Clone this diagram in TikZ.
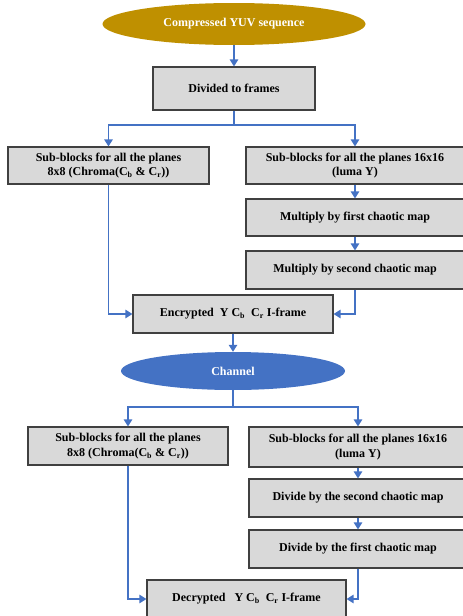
\documentclass[tikz,border=0pt]{standalone}
\usepackage{fontspec}
\setmainfont{Liberation Serif}
\usetikzlibrary{arrows.meta,shapes.geometric}

\definecolor{gold}{HTML}{BF9000}
\definecolor{chanblue}{HTML}{4472C4}
\definecolor{boxgray}{HTML}{D9D9D9}
\definecolor{edgegray}{HTML}{404040}

\tikzset{
  stepbox/.style={draw=edgegray, line width=1.2pt, fill=boxgray, inner sep=1pt,
    align=center, font=\fontsize{12}{14.5}\selectfont\bfseries},
  terminal/.style={ellipse, inner sep=0pt, text=white,
    font=\fontsize{12}{14.5}\selectfont\bfseries},
  arr/.style={draw=chanblue, line width=1.4pt, -{Triangle[width=8.5pt,length=7pt]}},
  link/.style={draw=chanblue, line width=1.4pt}
}

\begin{document}
\begin{tikzpicture}[x=1pt,y=-1pt]
\useasboundingbox (0,0) rectangle (463,616);
\clip (0,0) rectangle (463,616);

% encryption side
\node[terminal, fill=gold, minimum width=263, minimum height=42] (seq) at (234,24) {Compressed YUV sequence};
\node[stepbox, minimum width=162, minimum height=43] (frames) at (234,88.5) {Divided to frames};
\node[stepbox, minimum width=201, minimum height=37] (chromaA) at (108.5,165.5) {Sub-blocks for all the planes\\8x8 (Chroma(C\textsubscript{b} \& C\textsubscript{r}))};
\node[stepbox, minimum width=218, minimum height=37] (lumaA) at (355,165.5) {Sub-blocks for all the planes 16x16\\(luma Y)};
\node[stepbox, minimum width=218, minimum height=37] (mulA) at (355,217.5) {Multiply by first chaotic map};
\node[stepbox, minimum width=218, minimum height=38] (mulB) at (355,270) {Multiply by second chaotic map};
\node[stepbox, minimum width=200, minimum height=38] (enc) at (233,314) {Encrypted\ \ Y C\textsubscript{b}\ \ C\textsubscript{r} I-frame};

\node[terminal, fill=chanblue, minimum width=224, minimum height=38] (chan) at (233,371) {Channel};

% decryption side
\node[stepbox, minimum width=200, minimum height=38] (chromaB) at (128,446) {Sub-blocks for all the planes\\8x8 (Chroma(C\textsubscript{b} \& C\textsubscript{r}))};
\node[stepbox, minimum width=218, minimum height=40] (lumaB) at (358,447) {Sub-blocks for all the planes 16x16\\(luma Y)};
\node[stepbox, minimum width=218, minimum height=38] (divB) at (358,498) {Divide by the second chaotic map};
\node[stepbox, minimum width=218, minimum height=38] (divA) at (358,549) {Divide by the first chaotic map};
\node[stepbox, minimum width=199, minimum height=38] (dec) at (246.5,599) {Decrypted\ \ \ Y C\textsubscript{b}\ \ C\textsubscript{r} I-frame};

\coordinate (forkA) at (234,125);
\coordinate (forkB) at (233,407);

% connectors
\draw[arr] (seq) -- (frames);
\draw[link] (frames) -- (forkA);
\draw[arr] (forkA) -| (chromaA);
\draw[arr] (forkA) -| (lumaA);
\draw[arr] (lumaA) -- (mulA);
\draw[arr] (mulA) -- (mulB);
\draw[arr] (chromaA) |- (enc);
\draw[arr] (mulB) |- (enc);
\draw[arr] (enc) -- (chan);

\draw[link] (chan) -- (forkB);
\draw[arr] (forkB) -| (chromaB);
\draw[arr] (forkB) -| (lumaB);
\draw[arr] (lumaB) -- (divB);
\draw[arr] (divB) -- (divA);
\draw[arr] (chromaB) |- (dec);
\draw[arr] (divA) |- (dec);
\end{tikzpicture}
\end{document}
